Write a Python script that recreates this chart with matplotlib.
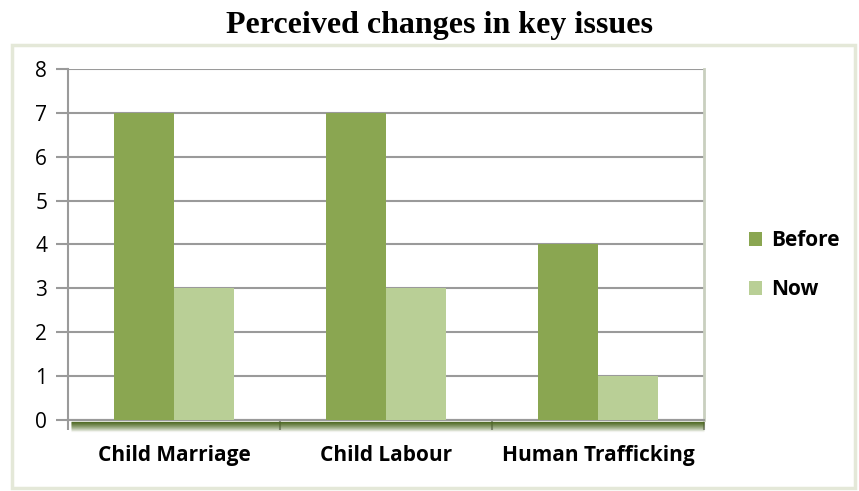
import matplotlib.pyplot as plt
import matplotlib.patches as mpatches
import numpy as np

# Survey counts for each issue
issues = ['Child Marriage', 'Child Labour', 'Human Trafficking']
before = [7, 7, 4]
now = [3, 3, 1]

BEFORE_COLOR = '#8aa651'
NOW_COLOR = '#b9cf96'
GRID_COLOR = '#9a9a9a'
SHADOW_COLOR = '#4d6821'

plt.rcParams['font.family'] = ['Open Sans', 'DejaVu Sans']

fig = plt.figure(figsize=(8.59, 4.91), dpi=100)

# light chart-area frame, kept behind the axes
frame = mpatches.Rectangle((0.014, 0.006), 0.981, 0.902, transform=fig.transFigure,
                           facecolor='white', edgecolor='#e4e8d8', linewidth=2.5, zorder=-1)
fig.patches.append(frame)

ax = fig.add_axes([0.0792, 0.1446, 0.7404, 0.7149])
ax.patch.set_alpha(0)

x = np.arange(len(issues))
w = 0.283
ax.bar(x - w / 2, before, w, color=BEFORE_COLOR, label='Before', zorder=3)
ax.bar(x + w / 2, now, w, color=NOW_COLOR, label='Now', zorder=3)

ax.set_xlim(-0.5, 2.5)
ax.set_ylim(0, 8)
ax.set_yticks(range(0, 9))
ax.yaxis.grid(True, color=GRID_COLOR, linewidth=1.5, zorder=0)
ax.set_axisbelow(True)

ax.set_xticks(x)
ax.set_xticklabels(issues, fontsize=15, fontweight='bold')
ax.set_xticks([-0.5, 0.5, 1.5, 2.5], minor=True)
ax.tick_params(axis='x', which='major', length=0, pad=18)
ax.tick_params(axis='x', which='minor', length=7, color=GRID_COLOR, width=1.5)
ax.tick_params(axis='y', length=9, color=GRID_COLOR, width=1.5, labelsize=15, pad=6)

for side in ['top', 'right']:
    ax.spines[side].set_visible(False)
ax.spines['left'].set_color(GRID_COLOR)
ax.spines['left'].set_linewidth(1.5)
ax.spines['bottom'].set_color(GRID_COLOR)
ax.spines['bottom'].set_linewidth(1.5)

# right wall edge of the plot area
ax.plot([1, 1], [0, 1], transform=ax.transAxes, color='#c9cfbf', linewidth=2, clip_on=False)

# floor shadow under the category axis, stacked fading lines
px = 1.0 / 351
for i, a in enumerate(np.linspace(0.95, 0.05, 10)):
    off = -px * (1.5 + i)
    ax.plot([0.004, 1.0], [off, off], transform=ax.transAxes, color=SHADOW_COLOR,
            alpha=a, linewidth=1.0, clip_on=False, solid_capstyle='butt', zorder=1)

fig.text(0.512, 0.949, 'Perceived changes in key issues', ha='center', va='center',
         fontsize=23, fontweight='bold', family=['Liberation Serif', 'DejaVu Serif'])

leg = fig.legend(loc='center left', bbox_to_anchor=(0.85, 0.46), frameon=False,
                 prop={'weight': 'bold', 'size': 15}, handlelength=0.65, handleheight=0.65,
                 handletextpad=0.4, labelspacing=1.35)

fig.savefig('out.png', dpi=100)
